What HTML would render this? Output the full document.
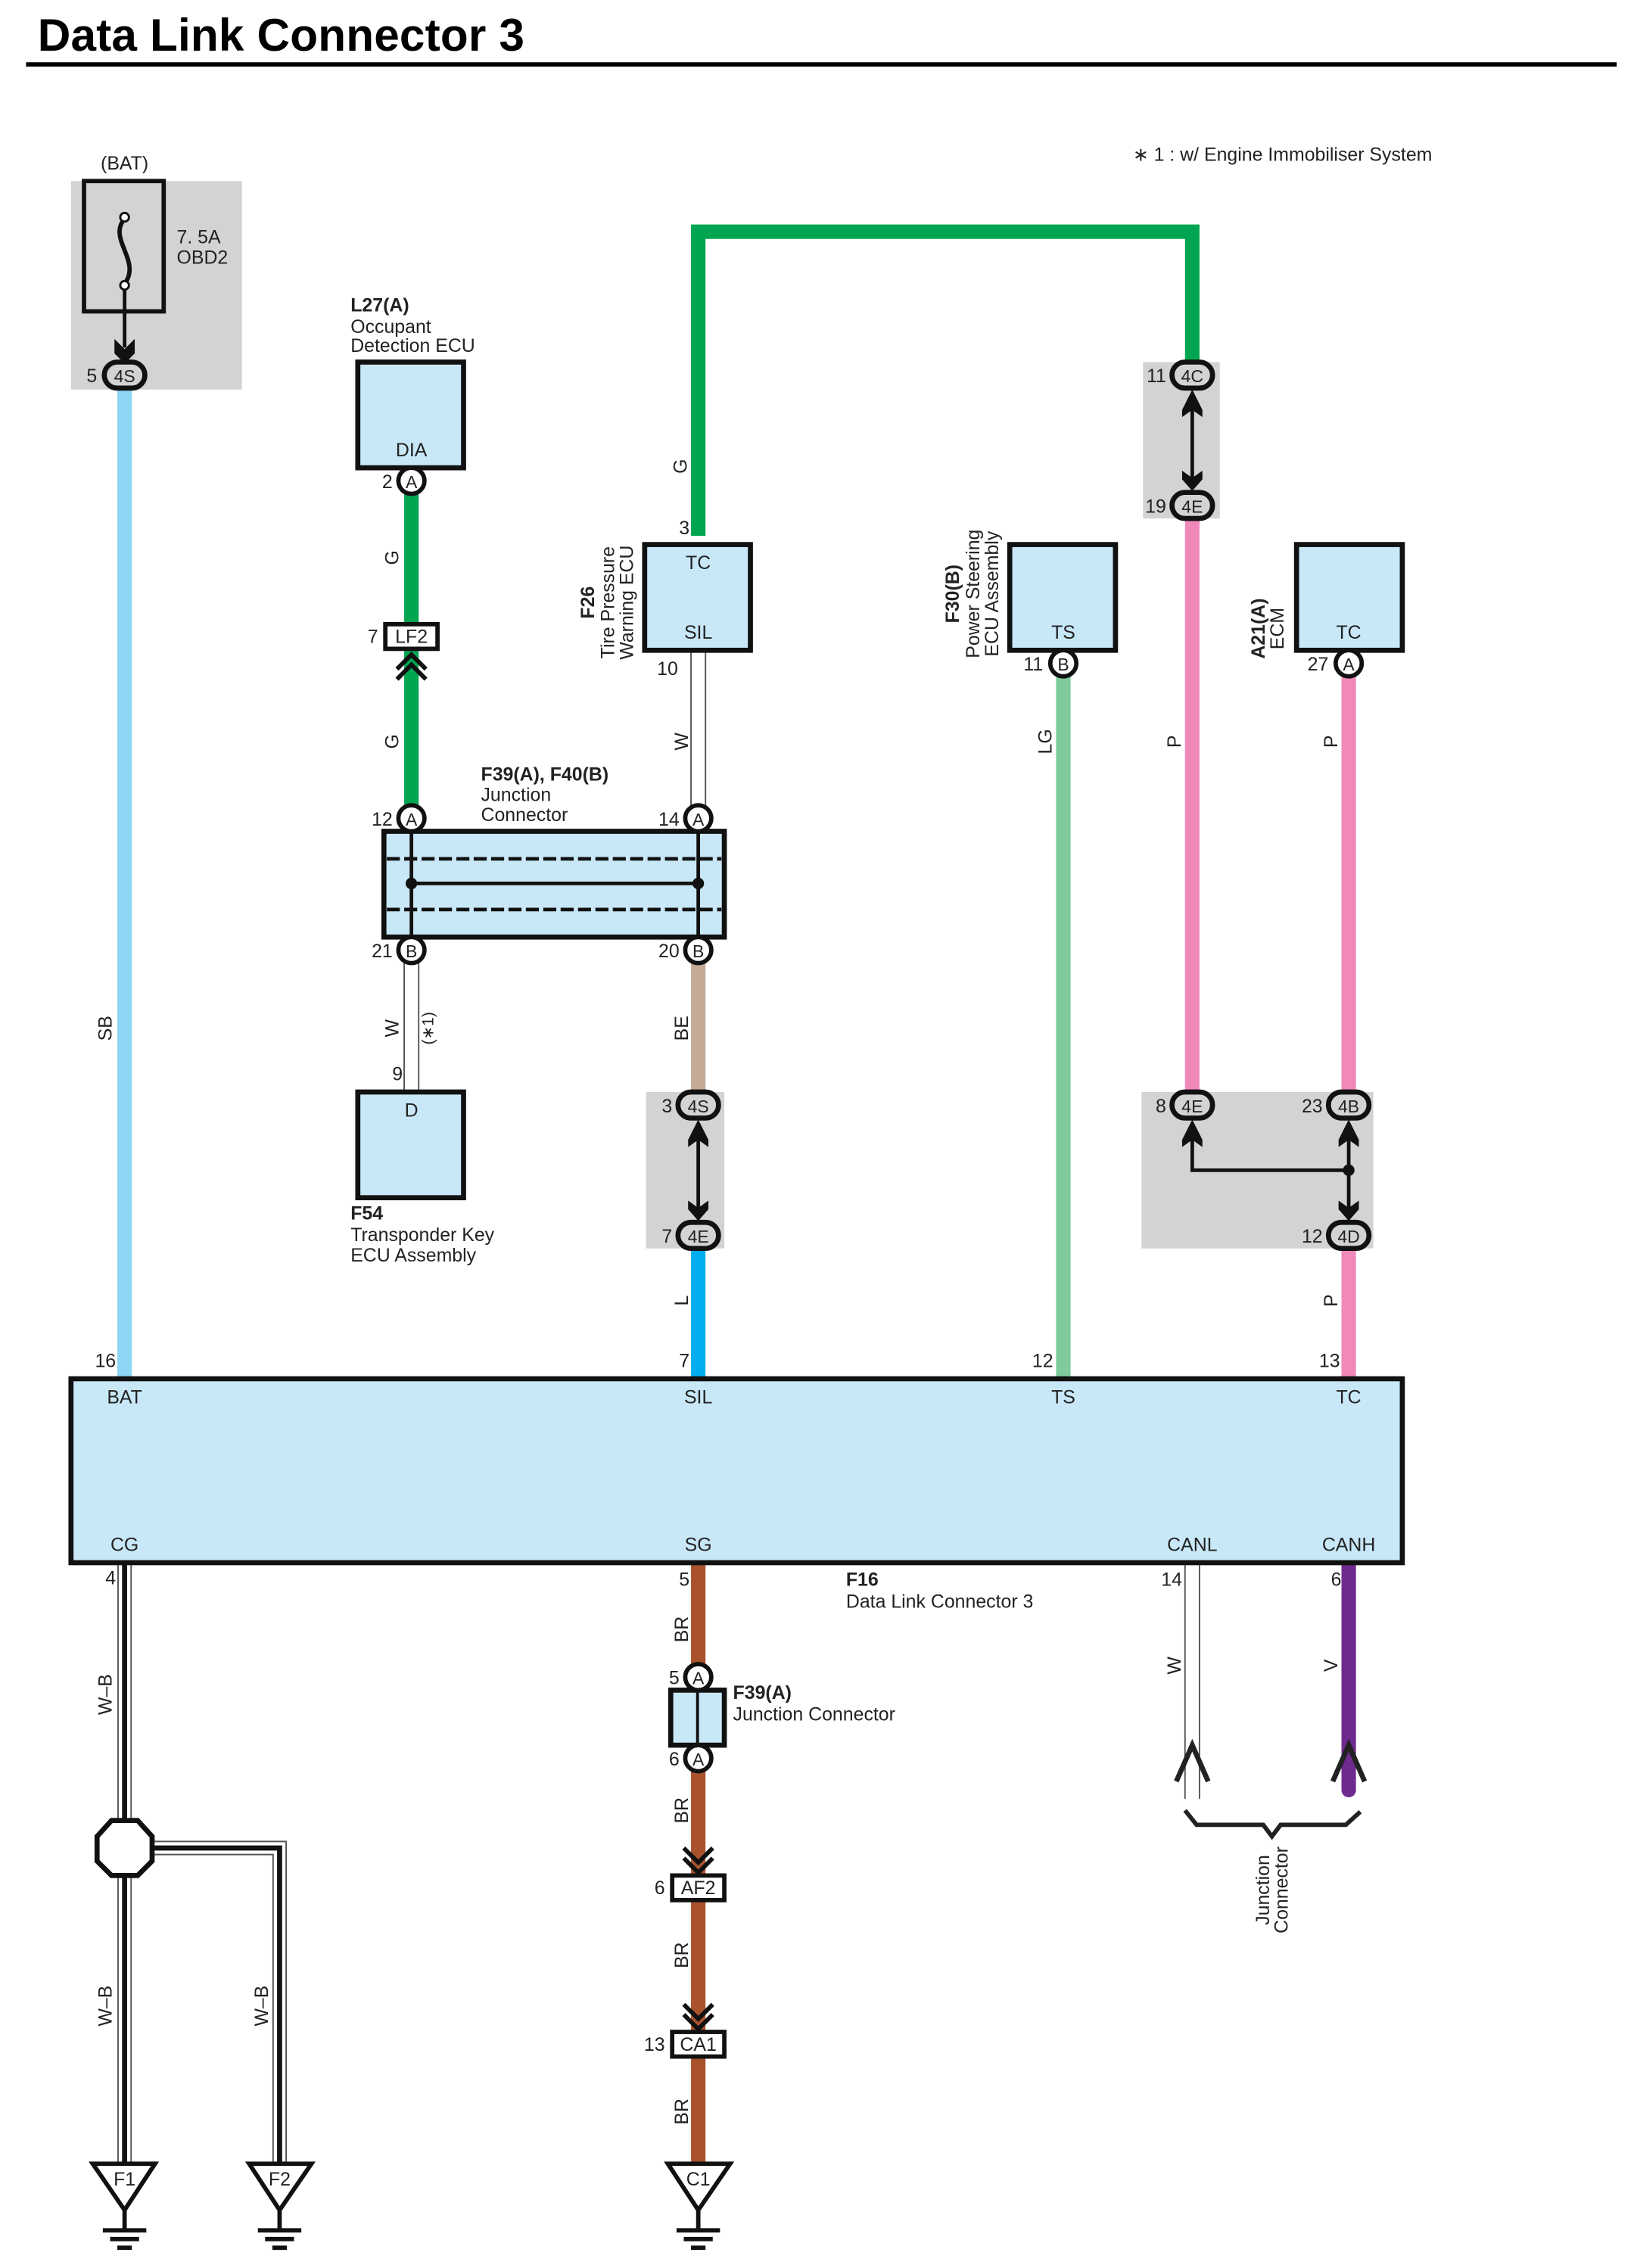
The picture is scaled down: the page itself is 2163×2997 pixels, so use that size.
<!DOCTYPE html>
<html><head><meta charset="utf-8"><style>
html,body{margin:0;padding:0;background:#fff}
svg{display:block}
text{font-family:"Liberation Sans",sans-serif;fill:#222}
.s{font-size:13px}
.b{font-weight:bold}
</style></head><body>
<svg width="2163" height="2997" viewBox="0 0 1130 1566" preserveAspectRatio="none" xmlns="http://www.w3.org/2000/svg">
<rect width="1130" height="1566" fill="#fff"/>
<text x="26" y="35" font-size="31.5" class="b" style="fill:#000" textLength="336">Data Link Connector 3</text>
<line x1="18" y1="44.5" x2="1116" y2="44.5" stroke="#000" stroke-width="3"/>
<text x="782" y="111" class="s">∗ 1 : w/ Engine Immobiliser System</text>

<rect x="49" y="125" width="118" height="144" fill="#d1d3d4"/>
<rect x="789" y="250" width="53" height="108" fill="#d1d3d4"/>
<rect x="446" y="754" width="54" height="108" fill="#d1d3d4"/>
<rect x="788" y="754" width="160" height="108" fill="#d1d3d4"/>

<text x="86" y="117" class="s" text-anchor="middle">(BAT)</text>
<rect x="58" y="125" width="55" height="90" fill="none" stroke="#111" stroke-width="3"/>
<path d="M86 151 C74 165,98 180,86 196" fill="none" stroke="#111" stroke-width="3"/>
<circle cx="86" cy="150" r="3" fill="#fff" stroke="#111" stroke-width="1.5"/>
<circle cx="86" cy="197" r="3" fill="#fff" stroke="#111" stroke-width="1.5"/>
<line x1="86" y1="200" x2="86" y2="240" stroke="#111" stroke-width="2.5"/>
<polygon points="79,234 86,241 93,234 93,244 86,251 79,244" fill="#111"/>
<text x="122" y="168" class="s">7. 5A</text>
<text x="122" y="182" class="s">OBD2</text>

<line x1="86" y1="268" x2="86" y2="952" stroke="#8dd5f2" stroke-width="10"/>
<text transform="rotate(-90 77 710)" x="77" y="710" class="s" text-anchor="middle">SB</text>

<line x1="284" y1="340" x2="284" y2="556" stroke="#00a551" stroke-width="10"/>
<path d="M482 370 V160 H823 V250" fill="none" stroke="#00a551" stroke-width="10"/>
<text transform="rotate(-90 275 385)" x="275" y="385" class="s" text-anchor="middle">G</text>
<text transform="rotate(-90 275 512)" x="275" y="512" class="s" text-anchor="middle">G</text>
<text transform="rotate(-90 474 322)" x="474" y="322" class="s" text-anchor="middle">G</text>

<g stroke="#555" stroke-width="1">
<line x1="477" y1="449" x2="477" y2="556"/><line x1="487" y1="449" x2="487" y2="556"/>
<line x1="279" y1="665" x2="279" y2="754"/><line x1="289" y1="665" x2="289" y2="754"/>
<line x1="818" y1="1079" x2="818" y2="1242"/><line x1="828" y1="1079" x2="828" y2="1242"/>
</g>
<text transform="rotate(-90 475 512)" x="475" y="512" class="s" text-anchor="middle">W</text>
<text x="468" y="466" class="s" text-anchor="end">10</text>
<text transform="rotate(-90 275 710)" x="275" y="710" class="s" text-anchor="middle">W</text>
<text transform="rotate(-90 299 710)" x="299" y="710" font-size="11" text-anchor="middle">(∗1)</text>
<text x="278" y="746" class="s" text-anchor="end">9</text>

<line x1="482" y1="665" x2="482" y2="755" stroke="#c3ab98" stroke-width="10"/>
<text transform="rotate(-90 475 710)" x="475" y="710" class="s" text-anchor="middle">BE</text>
<line x1="482" y1="862" x2="482" y2="952" stroke="#00aeef" stroke-width="10"/>
<text transform="rotate(-90 475 898)" x="475" y="898" class="s" text-anchor="middle">L</text>
<text x="476" y="944" class="s" text-anchor="end">7</text>

<line x1="734" y1="467" x2="734" y2="952" stroke="#7fcb9b" stroke-width="10"/>
<text transform="rotate(-90 726 512)" x="726" y="512" class="s" text-anchor="middle">LG</text>
<text x="727" y="944" class="s" text-anchor="end">12</text>

<line x1="823" y1="358" x2="823" y2="755" stroke="#f088b9" stroke-width="10"/>
<line x1="931" y1="467" x2="931" y2="755" stroke="#f088b9" stroke-width="10"/>
<line x1="931" y1="862" x2="931" y2="952" stroke="#f088b9" stroke-width="10"/>
<text transform="rotate(-90 815 512)" x="815" y="512" class="s" text-anchor="middle">P</text>
<text transform="rotate(-90 923 512)" x="923" y="512" class="s" text-anchor="middle">P</text>
<text transform="rotate(-90 923 898)" x="923" y="898" class="s" text-anchor="middle">P</text>
<text x="925" y="944" class="s" text-anchor="end">13</text>
<text x="80" y="944" class="s" text-anchor="end">16</text>

<line x1="482" y1="1079" x2="482" y2="1494" stroke="#a9532d" stroke-width="10"/>
<text transform="rotate(-90 475 1125)" x="475" y="1125" class="s" text-anchor="middle">BR</text>
<text transform="rotate(-90 475 1250)" x="475" y="1250" class="s" text-anchor="middle">BR</text>
<text transform="rotate(-90 475 1350)" x="475" y="1350" class="s" text-anchor="middle">BR</text>
<text transform="rotate(-90 475 1458)" x="475" y="1458" class="s" text-anchor="middle">BR</text>

<line x1="931" y1="1079" x2="931" y2="1236" stroke="#6e2a8e" stroke-width="10" stroke-linecap="round"/>
<text transform="rotate(-90 815 1150)" x="815" y="1150" class="s" text-anchor="middle">W</text>
<text transform="rotate(-90 923 1150)" x="923" y="1150" class="s" text-anchor="middle">V</text>
<text x="816" y="1095" class="s" text-anchor="end">14</text>
<text x="926" y="1095" class="s" text-anchor="end">6</text>
<g fill="none" stroke="#222" stroke-width="3.5">
<polyline points="812,1230 823,1205 834,1230"/>
<polyline points="920,1230 931,1205 942,1230"/>
</g>
<polyline points="818,1250 826,1260 872,1260 878,1268 884,1260 929,1260 939,1251" fill="none" stroke="#222" stroke-width="3"/>
<text transform="rotate(-90 876 1305)" x="876" y="1305" class="s" text-anchor="middle">Junction</text>
<text transform="rotate(-90 889 1305)" x="889" y="1305" class="s" text-anchor="middle">Connector</text>

<g fill="none">
<path d="M86 1079 V1500 M86 1276 H193 V1500" stroke="#555" stroke-width="10"/>
<path d="M86 1079 V1500 M86 1276 H193 V1500" stroke="#fff" stroke-width="8"/>
<path d="M86 1079 V1500 M86 1276 H193 V1500" stroke="#111" stroke-width="3.5"/>
</g>
<polygon points="77,1257 95,1257 105,1268 105,1285 95,1295 77,1295 67,1285 67,1268" fill="#fff" stroke="#111" stroke-width="3.5"/>
<text x="80" y="1094" class="s" text-anchor="end">4</text>
<text transform="rotate(-90 77 1170)" x="77" y="1170" class="s" text-anchor="middle">W–B</text>
<text transform="rotate(-90 77 1385)" x="77" y="1385" class="s" text-anchor="middle">W–B</text>
<text transform="rotate(-90 185 1385)" x="185" y="1385" class="s" text-anchor="middle">W–B</text>

<g stroke="#111" stroke-width="3" fill="#fff">
<polygon points="64,1494 107,1494 86,1526"/>
<polygon points="172,1494 215,1494 193,1526"/>
<polygon points="461,1494 504,1494 482,1526"/>
</g>
<g stroke="#111" stroke-width="3">
<path d="M86 1526 V1540 M71 1540 H101 M76 1546 H96 M81 1552 H91"/>
<path d="M193 1526 V1540 M178 1540 H208 M183 1546 H203 M188 1552 H198"/>
<path d="M482 1526 V1540 M467 1540 H497 M472 1546 H492 M477 1552 H487"/>
</g>
<text x="86" y="1509" class="s" text-anchor="middle">F1</text>
<text x="193" y="1509" class="s" text-anchor="middle">F2</text>
<text x="482" y="1509" class="s" text-anchor="middle">C1</text>

<g fill="#c8e8f8" stroke="#111" stroke-width="3.5">
<rect x="49" y="952" width="919" height="127"/>
<rect x="247" y="250" width="73" height="73"/>
<rect x="247" y="754" width="73" height="73"/>
<rect x="445" y="376" width="73" height="73"/>
<rect x="697" y="376" width="73" height="73"/>
<rect x="895" y="376" width="73" height="73"/>
<rect x="265" y="574" width="235" height="73"/>
<rect x="463" y="1167" width="37" height="38"/>
</g>
<line x1="481.5" y1="1167" x2="481.5" y2="1205" stroke="#111" stroke-width="2"/>
<g stroke="#111" stroke-width="2.5">
<line x1="267" y1="593" x2="498" y2="593" stroke-dasharray="9 3"/>
<line x1="267" y1="628" x2="498" y2="628" stroke-dasharray="9 3"/>
<line x1="284" y1="610" x2="482" y2="610"/>
<line x1="284" y1="574" x2="284" y2="647"/>
<line x1="482" y1="574" x2="482" y2="647"/>
</g>
<circle cx="284" cy="610" r="4" fill="#111"/>
<circle cx="482" cy="610" r="4" fill="#111"/>
<text x="332" y="539" class="s b">F39(A), F40(B)</text>
<text x="332" y="553" class="s">Junction</text>
<text x="332" y="567" class="s">Connector</text>

<text x="284" y="315" class="s" text-anchor="middle">DIA</text>
<text x="242" y="215" class="s b">L27(A)</text>
<text x="242" y="230" class="s">Occupant</text>
<text x="242" y="243" class="s">Detection ECU</text>
<text x="284" y="771" class="s" text-anchor="middle">D</text>
<text x="242" y="842" class="s b">F54</text>
<text x="242" y="857" class="s">Transponder Key</text>
<text x="242" y="871" class="s">ECU Assembly</text>
<text x="482" y="393" class="s" text-anchor="middle">TC</text>
<text x="482" y="441" class="s" text-anchor="middle">SIL</text>
<text x="476" y="369" class="s" text-anchor="end">3</text>
<text transform="rotate(-90 410 416)" x="410" y="416" class="s b" text-anchor="middle">F26</text>
<text transform="rotate(-90 424 416)" x="424" y="416" class="s" text-anchor="middle">Tire Pressure</text>
<text transform="rotate(-90 437 416)" x="437" y="416" class="s" text-anchor="middle">Warning ECU</text>
<text x="734" y="441" class="s" text-anchor="middle">TS</text>
<text transform="rotate(-90 662 410)" x="662" y="410" class="s b" text-anchor="middle">F30(B)</text>
<text transform="rotate(-90 676 410)" x="676" y="410" class="s" text-anchor="middle">Power Steering</text>
<text transform="rotate(-90 689 410)" x="689" y="410" class="s" text-anchor="middle">ECU Assembly</text>
<text x="931" y="441" class="s" text-anchor="middle">TC</text>
<text transform="rotate(-90 873 434)" x="873" y="434" class="s b" text-anchor="middle">A21(A)</text>
<text transform="rotate(-90 886 434)" x="886" y="434" class="s" text-anchor="middle">ECM</text>

<text x="86" y="969" class="s" text-anchor="middle">BAT</text>
<text x="482" y="969" class="s" text-anchor="middle">SIL</text>
<text x="734" y="969" class="s" text-anchor="middle">TS</text>
<text x="931" y="969" class="s" text-anchor="middle">TC</text>
<text x="86" y="1071" class="s" text-anchor="middle">CG</text>
<text x="482" y="1071" class="s" text-anchor="middle">SG</text>
<text x="823" y="1071" class="s" text-anchor="middle">CANL</text>
<text x="931" y="1071" class="s" text-anchor="middle">CANH</text>
<text x="476" y="1095" class="s" text-anchor="end">5</text>
<text x="584" y="1095" class="s b">F16</text>
<text x="584" y="1110" class="s">Data Link Connector 3</text>
<text x="506" y="1173" class="s b">F39(A)</text>
<text x="506" y="1188" class="s">Junction Connector</text>

<g fill="#fff" stroke="#111" stroke-width="3">
<circle cx="284" cy="332" r="9"/>
<circle cx="284" cy="565" r="9"/>
<circle cx="482" cy="565" r="9"/>
<circle cx="284" cy="656" r="9"/>
<circle cx="482" cy="656" r="9"/>
<circle cx="734" cy="458" r="9"/>
<circle cx="931" cy="458" r="9"/>
<circle cx="482" cy="1158" r="9"/>
<circle cx="482" cy="1214" r="9"/>
</g>
<g font-size="12" text-anchor="middle">
<text x="284" y="337">A</text><text x="284" y="570">A</text><text x="482" y="570">A</text>
<text x="284" y="661">B</text><text x="482" y="661">B</text><text x="734" y="463">B</text>
<text x="931" y="463">A</text><text x="482" y="1163">A</text><text x="482" y="1219">A</text>
</g>
<g class="s" text-anchor="end">
<text x="271" y="337">2</text><text x="271" y="570">12</text><text x="469" y="570">14</text>
<text x="271" y="661">21</text><text x="469" y="661">20</text><text x="720" y="463">11</text>
<text x="917" y="463">27</text><text x="469" y="1163">5</text><text x="469" y="1219">6</text>
</g>

<g fill="#fff" stroke="#111" stroke-width="3">
<rect x="266" y="431" width="36" height="17"/>
<rect x="464" y="1295" width="36" height="17"/>
<rect x="464" y="1403" width="36" height="17"/>
</g>
<text x="284" y="444" class="s" text-anchor="middle">LF2</text>
<text x="482" y="1308" class="s" text-anchor="middle">AF2</text>
<text x="482" y="1416" class="s" text-anchor="middle">CA1</text>
<text x="261" y="444" class="s" text-anchor="end">7</text>
<text x="459" y="1308" class="s" text-anchor="end">6</text>
<text x="459" y="1416" class="s" text-anchor="end">13</text>
<g fill="none" stroke="#111" stroke-width="3">
<polyline points="274,462 284,452 294,462"/><polyline points="274,469 284,459 294,469"/>
<polyline points="472,1276 482,1286 492,1276"/><polyline points="472,1283 482,1293 492,1283"/>
<polyline points="472,1384 482,1394 492,1384"/><polyline points="472,1391 482,1401 492,1391"/>
</g>

<g stroke="#111" stroke-width="2.5" fill="none">
<line x1="823" y1="275" x2="823" y2="333"/>
<line x1="482" y1="779" x2="482" y2="837"/>
<path d="M823 780 V808 H931 M931 779 V837"/>
</g>
<g fill="#111">
<polygon points="816,283 823,269 830,283 830,288 823,283 816,288"/>
<polygon points="816,325 823,330 830,325 830,331 823,339 816,331"/>
<polygon points="475,787 482,773 489,787 489,792 482,787 475,792"/>
<polygon points="475,829 482,834 489,829 489,835 482,843 475,835"/>
<polygon points="816,787 823,773 830,787 830,792 823,787 816,792"/>
<polygon points="924,787 931,773 938,787 938,792 931,787 924,792"/>
<polygon points="924,829 931,834 938,829 938,835 931,843 924,835"/>
<circle cx="931" cy="808" r="4"/>
</g>

<g fill="#d1d3d4" stroke="#111" stroke-width="3.5">
<rect x="72" y="250" width="28" height="18" rx="9"/>
<rect x="809" y="250" width="28" height="18" rx="9"/>
<rect x="809" y="340" width="28" height="18" rx="9"/>
<rect x="468" y="754" width="28" height="18" rx="9"/>
<rect x="468" y="844" width="28" height="18" rx="9"/>
<rect x="809" y="754" width="28" height="18" rx="9"/>
<rect x="917" y="754" width="28" height="18" rx="9"/>
<rect x="917" y="844" width="28" height="18" rx="9"/>
</g>
<g font-size="12" text-anchor="middle">
<text x="86" y="264">4S</text><text x="823" y="264">4C</text><text x="823" y="354">4E</text>
<text x="482" y="768">4S</text><text x="482" y="858">4E</text><text x="823" y="768">4E</text>
<text x="931" y="768">4B</text><text x="931" y="858">4D</text>
</g>
<g class="s" text-anchor="end">
<text x="67" y="264">5</text><text x="805" y="264">11</text><text x="805" y="354">19</text>
<text x="464" y="768">3</text><text x="464" y="858">7</text><text x="805" y="768">8</text>
<text x="913" y="768">23</text><text x="913" y="858">12</text>
</g>
</svg>
</body></html>
